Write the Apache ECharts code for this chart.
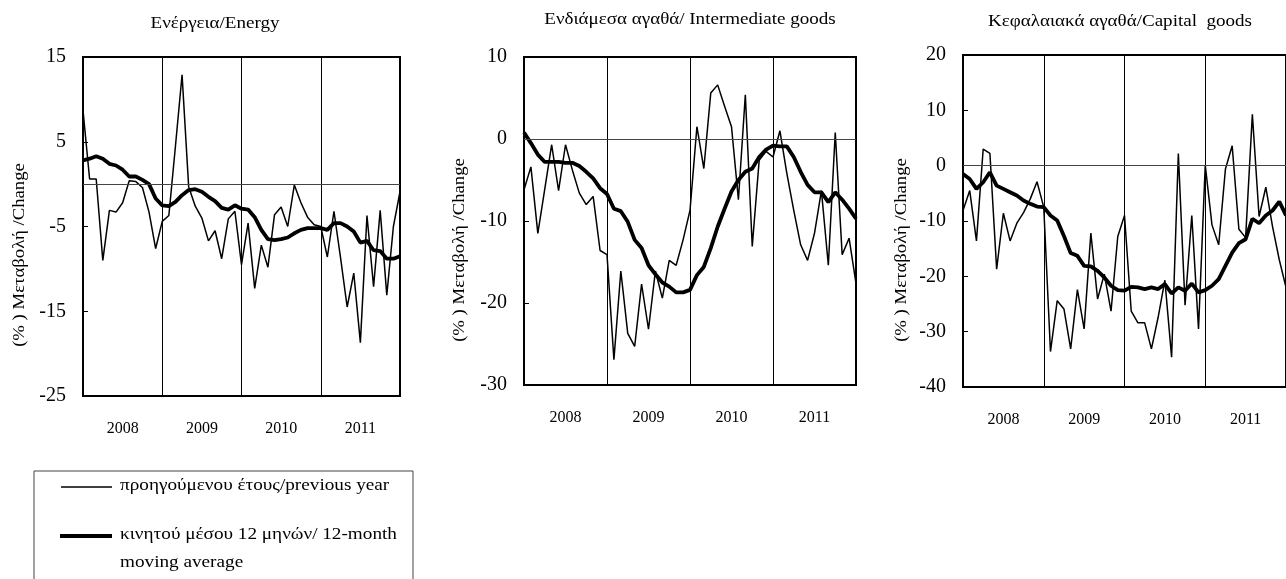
<!DOCTYPE html>
<html>
<head>
<meta charset="utf-8">
<script src="https://cdn.jsdelivr.net/npm/echarts@6/dist/echarts.min.js"></script>
<style>
  html, body { margin: 0; padding: 0; background: #fff; }
  #chart { width: 1286px; height: 579px; }
</style>
</head>
<body>
<div id="chart"></div>
<script>
// monthly values, 49 points per series (x = month index 0..48, year boundaries at 12, 24, 36)
const yearLabels = ['2008', '2009', '2010', '2011']

const energyYoY = [8.7, 0.6, 0.6, -9.0, -3.1, -3.3, -2.2, 0.4, 0.3, -0.4, -3.3, -7.6, -4.4, -3.7, 4.5, 12.9, -0.3, -2.6, -4.0, -6.7, -5.5, -8.8, -4.1, -3.2, -9.5, -4.6, -12.3, -7.2, -9.8, -3.6, -2.7, -5.0, -0.1, -2.2, -3.9, -4.8, -5.0, -8.6, -3.2, -8.7, -14.5, -10.5, -18.7, -3.7, -12.1, -3.1, -13.1, -5.0, -0.9]
const energyMA = [2.8, 3.0, 3.3, 3.0, 2.4, 2.2, 1.7, 0.9, 0.9, 0.5, 0.0, -1.7, -2.5, -2.6, -2.1, -1.3, -0.7, -0.6, -0.9, -1.5, -2.0, -2.8, -3.0, -2.5, -2.9, -3.0, -3.9, -5.4, -6.5, -6.6, -6.5, -6.3, -5.8, -5.4, -5.2, -5.2, -5.2, -5.4, -4.6, -4.6, -5.0, -5.6, -6.9, -6.7, -7.8, -7.9, -8.8, -8.8, -8.5]

const intermYoY = [-6.2, -3.4, -11.5, -6.1, -0.7, -6.3, -0.7, -3.8, -6.6, -8.0, -7.0, -13.6, -14.1, -26.9, -16.1, -23.7, -25.3, -17.7, -23.2, -16.1, -19.4, -14.8, -15.4, -12.3, -8.7, 1.5, -3.6, 5.6, 6.6, 4.0, 1.5, -7.4, 5.4, -13.1, -2.6, -1.5, -2.2, 1.0, -4.2, -8.7, -12.9, -14.8, -11.5, -6.3, -15.4, 0.8, -14.1, -12.1, -17.6]
const intermMA = [0.8, -0.5, -1.9, -2.8, -2.8, -2.8, -2.9, -2.9, -3.3, -4.0, -4.8, -6.0, -6.7, -8.5, -8.8, -10.1, -12.3, -13.3, -15.4, -16.5, -17.5, -18.0, -18.7, -18.7, -18.4, -16.6, -15.6, -13.3, -10.7, -8.5, -6.4, -5.0, -4.0, -3.6, -2.2, -1.3, -0.8, -0.9, -0.9, -2.2, -4.0, -5.6, -6.5, -6.5, -7.7, -6.5, -7.4, -8.5, -9.7]

const capitalYoY = [-8.1, -4.5, -13.6, 3.0, 2.2, -18.7, -8.6, -13.6, -10.4, -8.5, -6.0, -2.9, -7.5, -33.6, -24.4, -25.9, -33.1, -22.4, -29.5, -12.2, -24.1, -19.6, -26.3, -12.8, -9.0, -26.3, -28.4, -28.4, -33.1, -27.4, -20.7, -34.6, 2.2, -25.2, -9.0, -29.5, 0.1, -10.7, -14.3, -0.6, 3.6, -11.5, -13.0, 9.3, -9.2, -3.9, -11.0, -17.0, -22.0]
const capitalMA = [-1.5, -2.4, -4.2, -3.0, -1.2, -3.6, -4.2, -4.8, -5.4, -6.3, -6.9, -7.4, -7.5, -9.0, -9.9, -12.7, -15.8, -16.3, -18.1, -18.2, -19.0, -20.2, -21.7, -22.5, -22.6, -21.9, -22.0, -22.3, -22.0, -22.3, -21.4, -23.1, -22.0, -22.6, -21.3, -22.9, -22.5, -21.7, -20.5, -18.1, -15.7, -14.0, -13.3, -9.6, -10.4, -9.0, -8.1, -6.5, -9.0]

const seriesNames = ['προηγούμενου έτους/previous year', 'κινητού μέσου 12 μηνών/ 12-month moving average']
const yAxisName = '(% ) Μεταβολή /Change'

const FONT = '"Liberation Serif", "DejaVu Serif", serif'

const panels = [
  { title: 'Ενέργεια/Energy', yoy: energyYoY, ma: energyMA, min: -25, max: 15,
    grid: { left: 83, top: 57, width: 317, height: 339 }, titlePos: [215, 24], namePos: [20, 255] },
  { title: 'Ενδιάμεσα αγαθά/ Intermediate goods', yoy: intermYoY, ma: intermMA, min: -30, max: 10,
    grid: { left: 524, top: 57, width: 332, height: 328 }, titlePos: [690, 20], namePos: [460, 250] },
  { title: 'Κεφαλαιακά αγαθά/Capital  goods', yoy: capitalYoY, ma: capitalMA, min: -40, max: 20,
    grid: { left: 963, top: 55, width: 325, height: 332 }, titlePos: [1120, 22], namePos: [902, 250] }
]

const toPoints = arr => arr.map((v, i) => [i, v])

const grid = []
const xAxis = []
const yAxis = []
const series = []
const graphic = []

panels.forEach((p, k) => {
  grid.push(Object.assign({ show: true, borderColor: '#000', borderWidth: 2, backgroundColor: 'transparent' }, p.grid))
  // month axis: only draws the year boundary lines
  xAxis.push({
    type: 'value', gridIndex: k, min: 0, max: 48, interval: 12, position: 'bottom',
    axisLine: { show: false }, axisTick: { show: false }, axisLabel: { show: false },
    splitLine: { show: true, lineStyle: { color: '#000', width: 1 } }
  })
  // year labels centred in each year band
  xAxis.push({
    type: 'category', gridIndex: k, data: yearLabels, boundaryGap: true, position: 'bottom',
    axisLine: { show: false }, axisTick: { show: false }, splitLine: { show: false },
    axisLabel: { color: '#000', fontFamily: FONT, fontSize: 16, margin: 25 }
  })
  yAxis.push({
    type: 'value', gridIndex: k, min: p.min, max: p.max, interval: 10,
    axisLine: { show: true, lineStyle: { color: '#000', width: 2 } },
    axisTick: { show: true, inside: true, length: 5, lineStyle: { color: '#000', width: 1 } },
    splitLine: { show: false },
    axisLabel: { color: '#000', fontFamily: FONT, fontSize: 20, margin: 17 }
  })
  series.push({
    name: seriesNames[0], type: 'line', xAxisIndex: 2 * k, yAxisIndex: k,
    data: toPoints(p.yoy), showSymbol: false, symbol: 'none', silent: true,
    lineStyle: { color: '#000', width: 1.5 },
    markLine: {
      silent: true, symbol: 'none', label: { show: false },
      lineStyle: { color: '#444', width: 1, type: 'solid' },
      data: [{ yAxis: 0 }]
    }
  })
  series.push({
    name: seriesNames[1], type: 'line', xAxisIndex: 2 * k, yAxisIndex: k,
    data: toPoints(p.ma), showSymbol: false, symbol: 'none', silent: true,
    lineStyle: { color: '#000', width: 3.8 }
  })
  // the original text is set wide, so stretch it a little
  graphic.push({
    type: 'text', x: p.titlePos[0], y: p.titlePos[1], scaleX: 1.19,
    style: { text: p.title, fill: '#000', font: '16px ' + FONT, align: 'center', verticalAlign: 'middle' }
  })
  graphic.push({
    type: 'text', x: p.namePos[0], y: p.namePos[1], rotation: Math.PI / 2, scaleX: 1.1,
    style: { text: yAxisName, fill: '#000', font: '17px ' + FONT, align: 'center', verticalAlign: 'middle' }
  })
})

// legend box, drawn by hand like the original
const legendText = (text, y) => ({
  type: 'text', x: 120, y: y, scaleX: 1.2,
  style: { text: text, fill: '#000', font: '16px ' + FONT, verticalAlign: 'middle' }
})
graphic.push(
  { type: 'rect', shape: { x: 34, y: 471, width: 379, height: 140 },
    style: { fill: 'none', stroke: '#444', lineWidth: 1 } },
  { type: 'line', shape: { x1: 61, y1: 487, x2: 112, y2: 487 }, style: { stroke: '#000', lineWidth: 1.5 } },
  { type: 'line', shape: { x1: 60, y1: 536, x2: 112, y2: 536 }, style: { stroke: '#000', lineWidth: 3.8 } },
  legendText('προηγούμενου έτους/previous year', 486),
  legendText('κινητού μέσου 12 μηνών/ 12-month', 535),
  legendText('moving average', 563)
)

const myChart = echarts.init(document.getElementById('chart'), null, { renderer: 'canvas' })
myChart.setOption({
  animation: false,
  backgroundColor: '#fff',
  grid: grid,
  xAxis: xAxis,
  yAxis: yAxis,
  series: series,
  graphic: graphic
})
</script>
</body>
</html>
